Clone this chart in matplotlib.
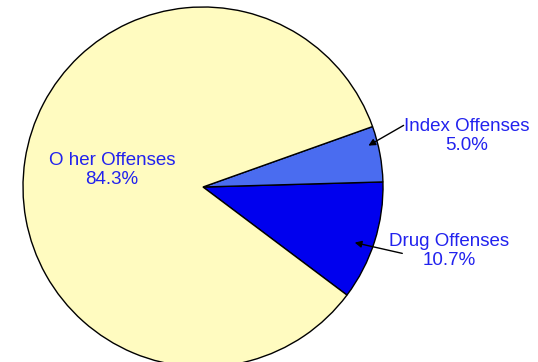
import matplotlib.pyplot as plt

labels = ["Drug Offenses", "Index Offenses", "O her Offenses"]
shares = [10.7, 5.0, 84.3]
colors = ["#0000EE", "#4A6CF0", "#FFFBC0"]

W, H = 538, 362
fig = plt.figure(figsize=(W / 100, H / 100), dpi=100)
plt.rcParams['font.family'] = ['Liberation Sans', 'DejaVu Sans']

# pie centre and radius in pixels
cx, cy, r = 203, 187, 180
ax = fig.add_axes([(cx - r) / W, (H - cy - r) / H, 2 * r / W, 2 * r / H])
ax.pie(shares, colors=colors, startangle=-36.9, radius=1,
       wedgeprops=dict(edgecolor="black", linewidth=1))
ax.set_xlim(-1, 1)
ax.set_ylim(-1, 1)
ax.set_aspect("equal")
ax.axis("off")


def d(px, py):
    return ((px - cx) / r, (cy - py) / r)


txt = dict(color="#2222EE", fontsize=13.5, ha="center", va="center",
           linespacing=1.1)
ax.text(*d(112, 170), "O her Offenses\n84.3%", **txt)
ax.text(*d(467, 136), "Index Offenses\n5.0%", **txt)
ax.text(*d(449, 251), "Drug Offenses\n10.7%", **txt)

ax.annotate("", xy=d(366, 147), xytext=d(406, 124),
            arrowprops=dict(arrowstyle="-|>", color="black", lw=1,
                            mutation_scale=10))
ax.annotate("", xy=d(352, 242), xytext=d(405, 254),
            arrowprops=dict(arrowstyle="-|>", color="black", lw=1,
                            mutation_scale=10))

fig.savefig("out.png", dpi=100)
